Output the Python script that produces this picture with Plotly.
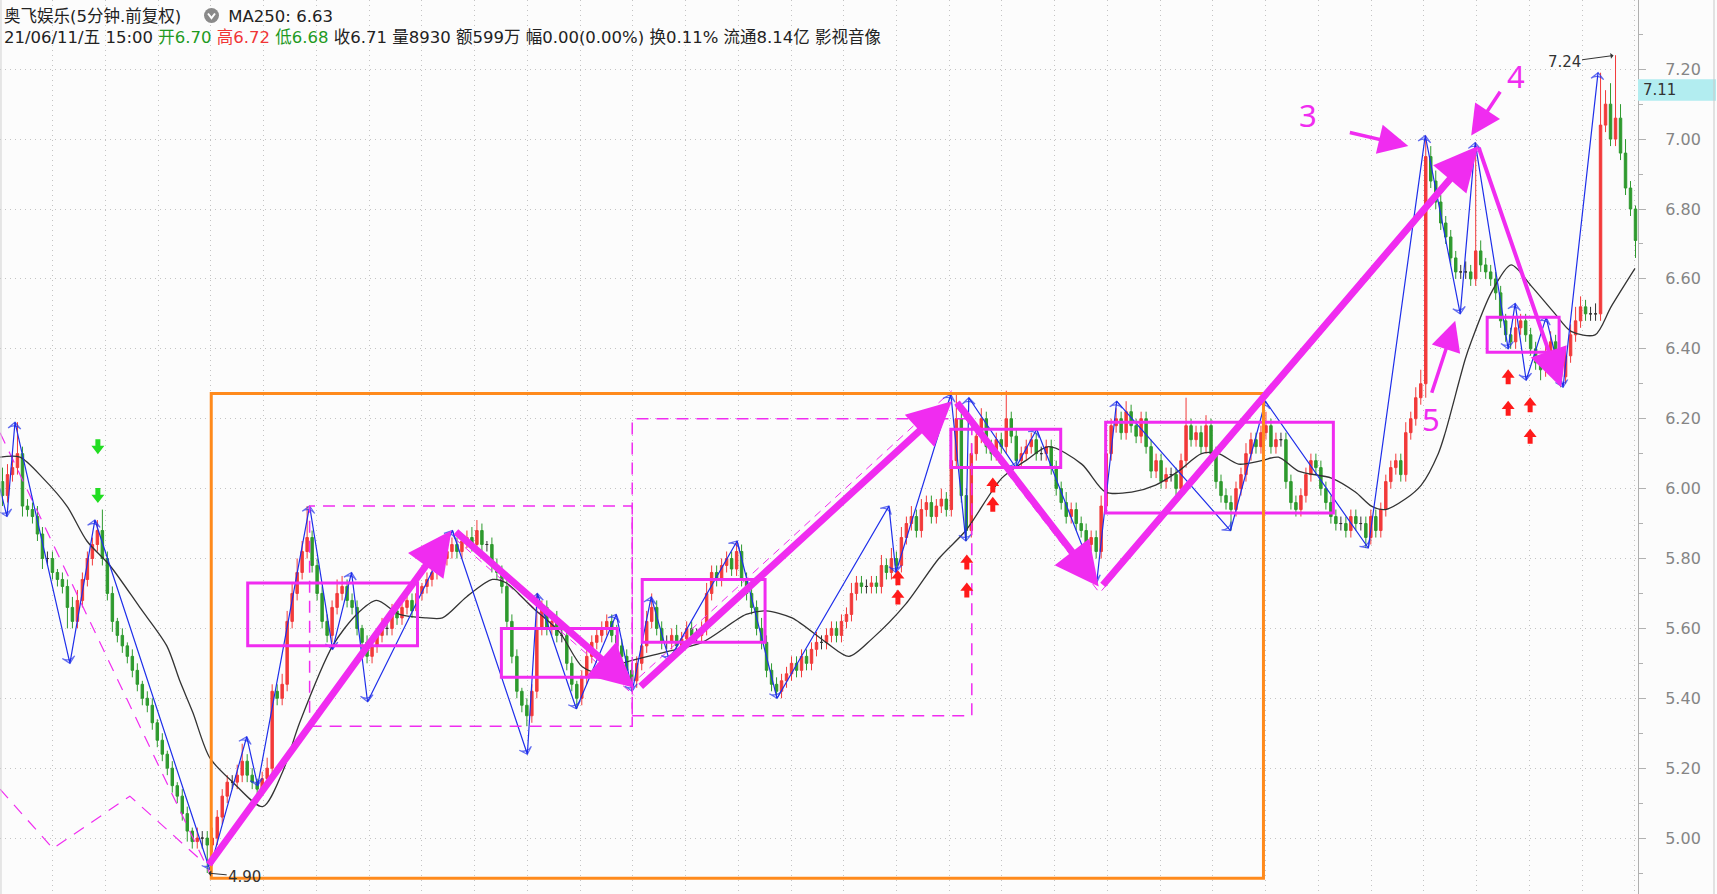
import plotly.graph_objects as go

# ---------------- data ----------------
first_open = 6.02
close = [
    5.98, 6.04, 6.06, 6.10, 5.95, 5.94, 5.92, 5.87, 5.80, 5.80,
    5.76, 5.74, 5.72, 5.66, 5.62, 5.68, 5.74, 5.80, 5.84, 5.88,
    5.80, 5.70, 5.62, 5.58, 5.55, 5.52, 5.48, 5.44, 5.40, 5.38,
    5.33, 5.28, 5.24, 5.20, 5.15, 5.12, 5.07, 5.02, 4.99, 5.00,
    5.00, 4.98, 5.00, 5.06, 5.12, 5.16, 5.16, 5.18, 5.22, 5.18,
    5.16, 5.14, 5.17, 5.20, 5.42, 5.40, 5.44, 5.62, 5.70, 5.76,
    5.82, 5.86, 5.78, 5.70, 5.62, 5.58, 5.66, 5.70, 5.72, 5.68,
    5.66, 5.60, 5.56, 5.52, 5.55, 5.58, 5.60, 5.60, 5.65, 5.63,
    5.66, 5.68, 5.65, 5.70, 5.72, 5.74, 5.76, 5.78, 5.80, 5.82,
    5.84, 5.82, 5.85, 5.86, 5.84, 5.88, 5.84, 5.84, 5.78, 5.76,
    5.72, 5.62, 5.52, 5.42, 5.38, 5.35, 5.42, 5.60, 5.66, 5.60,
    5.62, 5.58, 5.58, 5.50, 5.44, 5.40, 5.46, 5.52, 5.56, 5.58,
    5.60, 5.62, 5.58, 5.55, 5.52, 5.48, 5.45, 5.50, 5.55, 5.62,
    5.66, 5.60, 5.56, 5.56, 5.58, 5.55, 5.57, 5.60, 5.58, 5.58,
    5.60, 5.70, 5.76, 5.74, 5.78, 5.80, 5.77, 5.82, 5.74, 5.70,
    5.66, 5.60, 5.56, 5.48, 5.44, 5.42, 5.45, 5.47, 5.50, 5.48,
    5.52, 5.50, 5.54, 5.56, 5.56, 5.58, 5.60, 5.58, 5.62, 5.64,
    5.70, 5.73, 5.72, 5.72, 5.73, 5.72, 5.78, 5.76, 5.80, 5.78,
    5.86, 5.90, 5.92, 5.88, 5.94, 5.96, 5.92, 5.95, 5.97, 5.94,
    6.08, 6.20, 5.98, 5.88, 6.10, 6.15, 6.20, 6.12, 6.10, 6.14,
    6.12, 6.20, 6.15, 6.08, 6.10, 6.12, 6.14, 6.10, 6.10, 6.12,
    6.06, 6.00, 5.96, 5.92, 5.94, 5.90, 5.88, 5.84, 5.86, 5.82,
    5.95, 6.10, 6.18, 6.20, 6.16, 6.22, 6.18, 6.15, 6.20, 6.12,
    6.05, 6.08, 6.02, 6.04, 6.04, 6.00, 6.08, 6.18, 6.14, 6.16,
    6.12, 6.18, 6.10, 6.02, 5.98, 5.96, 5.94, 6.00, 6.04, 6.10,
    6.14, 6.12, 6.16, 6.18, 6.12, 6.14, 6.14, 6.02, 5.96, 5.94,
    5.98, 6.04, 6.08, 6.06, 6.00, 5.96, 5.92, 5.90, 5.90, 5.88,
    5.92, 5.90, 5.90, 5.86, 5.92, 5.88, 5.94, 6.02, 6.06, 6.08,
    6.04, 6.16, 6.20, 6.26, 6.30, 6.95, 6.88, 6.82, 6.76, 6.72,
    6.66, 6.62, 6.62, 6.62, 6.60, 6.68, 6.64, 6.62, 6.60, 6.56,
    6.48, 6.44, 6.42, 6.46, 6.48, 6.44, 6.40, 6.36, 6.34, 6.38,
    6.42, 6.36, 6.32, 6.38, 6.44, 6.48, 6.52, 6.50, 6.50, 6.50,
    7.04, 7.10, 7.00, 7.06, 6.96, 6.86, 6.80, 6.71,
]
# upper / lower shadows beyond the body, in cents
wick_up = [
    4, 3, 4, 9, 2, 2, 2, 3, 2, 2,
    2, 1, 2, 2, 3, 3, 2, 2, 2, 3,
    6, 2, 2, 1, 2, 1, 2, 2, 1, 2,
    2, 1, 2, 1, 2, 1, 2, 2, 1, 3,
    2, 2, 3, 2, 2, 2, 2, 3, 5, 2,
    2, 1, 2, 3, 2, 2, 3, 3, 3, 4,
    3, 9, 2, 2, 2, 2, 2, 4, 3, 2,
    2, 2, 1, 2, 2, 2, 3, 2, 2, 2,
    2, 3, 2, 2, 1, 2, 2, 3, 2, 2,
    2, 2, 2, 2, 3, 3, 2, 1, 2, 2,
    2, 2, 2, 2, 1, 2, 2, 10, 2, 2,
    2, 3, 2, 2, 2, 1, 2, 2, 2, 2,
    2, 2, 2, 3, 2, 2, 2, 2, 2, 3,
    4, 2, 2, 2, 2, 3, 2, 2, 2, 2,
    2, 3, 2, 2, 2, 2, 2, 3, 2, 2,
    2, 2, 3, 2, 2, 2, 2, 2, 2, 2,
    2, 2, 2, 3, 2, 2, 2, 2, 2, 2,
    3, 2, 2, 2, 2, 2, 3, 2, 3, 2,
    3, 2, 3, 2, 3, 2, 2, 2, 3, 2,
    3, 7, 2, 2, 3, 3, 3, 2, 2, 2,
    2, 8, 2, 2, 2, 2, 2, 2, 2, 2,
    2, 2, 2, 3, 2, 2, 2, 2, 2, 2,
    3, 3, 2, 3, 2, 3, 2, 2, 2, 2,
    2, 2, 2, 2, 2, 2, 2, 8, 2, 2,
    2, 3, 2, 2, 2, 2, 2, 2, 2, 3,
    2, 2, 2, 4, 2, 2, 2, 2, 2, 2,
    2, 2, 2, 2, 2, 2, 2, 2, 2, 2,
    2, 2, 2, 2, 2, 2, 2, 2, 2, 2,
    2, 3, 2, 3, 4, 6, 3, 3, 2, 2,
    2, 2, 2, 3, 2, 31, 3, 2, 2, 2,
    2, 2, 2, 3, 2, 2, 2, 2, 2, 3,
    3, 2, 2, 2, 3, 4, 3, 2, 2, 3,
    15, 4, 6, 18, 4, 4, 2, 1,
]
wick_dn = [
    3, 2, 2, 2, 3, 2, 2, 2, 3, 2,
    2, 2, 2, 6, 2, 2, 2, 2, 2, 2,
    2, 2, 3, 2, 2, 2, 2, 2, 2, 2,
    2, 2, 2, 2, 2, 2, 2, 3, 2, 2,
    3, 8, 2, 2, 2, 2, 2, 2, 2, 2,
    2, 2, 2, 2, 2, 2, 2, 2, 2, 2,
    2, 2, 2, 2, 2, 2, 2, 2, 2, 2,
    2, 2, 4, 2, 2, 2, 2, 2, 2, 2,
    2, 2, 2, 2, 2, 2, 2, 2, 2, 2,
    2, 2, 2, 2, 2, 2, 2, 2, 2, 2,
    2, 2, 2, 2, 2, 3, 2, 2, 2, 2,
    2, 2, 2, 2, 2, 3, 2, 2, 2, 2,
    2, 2, 2, 2, 2, 2, 3, 2, 2, 2,
    2, 2, 2, 2, 2, 2, 2, 2, 2, 2,
    2, 2, 2, 2, 2, 2, 2, 2, 2, 2,
    2, 2, 2, 2, 2, 2, 2, 2, 2, 2,
    2, 2, 2, 2, 2, 2, 2, 2, 2, 2,
    2, 2, 2, 2, 2, 2, 2, 2, 2, 2,
    2, 2, 2, 2, 2, 2, 2, 2, 2, 2,
    2, 2, 2, 3, 2, 2, 2, 2, 2, 2,
    2, 2, 2, 2, 2, 2, 2, 2, 2, 2,
    2, 2, 2, 2, 2, 2, 2, 2, 2, 2,
    2, 2, 2, 2, 2, 2, 2, 2, 2, 2,
    2, 2, 2, 2, 2, 2, 2, 2, 2, 2,
    2, 2, 2, 2, 2, 2, 6, 2, 2, 2,
    2, 2, 2, 2, 2, 2, 2, 2, 2, 2,
    2, 2, 2, 2, 2, 2, 2, 2, 2, 2,
    2, 2, 2, 3, 2, 2, 2, 2, 2, 2,
    2, 2, 2, 2, 2, 4, 2, 2, 2, 2,
    2, 2, 2, 2, 2, 2, 2, 2, 2, 2,
    2, 2, 2, 2, 2, 2, 2, 2, 3, 2,
    2, 2, 3, 2, 2, 2, 2, 2, 2, 2,
    2, 2, 2, 2, 2, 2, 2, 5,
]

# MA250 line
ma_bar = [-0.5, 3.5, 8.1, 12.9, 16.9, 21.5, 27.5, 32.9, 35.5, 38.1, 41.5, 46.1, 52.1, 56.1, 59.5,
          66.1, 70.9, 74.9, 79.5, 84.9, 88.1, 92.9, 98.1, 100.9, 106.1, 111.5, 116.1, 120.1, 124.1,
          132.1, 140.1, 148.9, 152.9, 158.1, 164.9, 169.5, 174.1, 180.9, 187.5, 192.9, 200.1, 204.9,
          209.5, 216.1, 220.9, 226.1, 230.9, 235.5, 240.1, 243.5, 247.5, 252.1, 255.5, 259.5, 266.1,
          270.9, 274.1, 276.9, 280.9, 284.1, 287.5, 288.9, 292.9, 294.1, 298.1, 302.1, 306.1, 310.9,
          314.1, 318.9, 322.1, 326.9]
ma_val = [6.09, 6.09, 6.03, 5.95, 5.85, 5.78, 5.66, 5.55, 5.45, 5.36, 5.23, 5.16, 5.09, 5.19, 5.33,
          5.55, 5.64, 5.68, 5.64, 5.63, 5.63, 5.69, 5.74, 5.73, 5.66, 5.59, 5.49, 5.47, 5.50,
          5.53, 5.56, 5.64, 5.65, 5.63, 5.56, 5.52, 5.57, 5.67, 5.80, 5.88, 6.03, 6.08,
          6.12, 6.07, 5.99, 5.99, 6.01, 6.05, 6.10, 6.10, 6.07, 6.08, 6.09, 6.05, 6.03,
          5.99, 5.95, 5.94, 5.97, 6.01, 6.10, 6.16, 6.37, 6.42, 6.56, 6.64, 6.58, 6.50,
          6.45, 6.44, 6.52, 6.63]

# blue wave (zig-zag) line
zig_bar = [-0.5, 0.9, 2.5, 13.5, 18.5, 41.5, 48.9, 51.1, 61.5, 66.1, 69.9, 73.1, 90.1, 105.1, 107.1,
           114.9, 122.9, 126.1, 129.9, 133.5, 147.1, 155.1, 177.5, 178.9, 189.9, 192.9, 193.5, 202.9,
           207.1, 219.1, 223.1, 245.9, 252.9, 273.5, 284.9, 291.9, 294.9, 301.5, 302.9, 305.1, 309.1,
           312.5, 319.5]
zig_val = [6.00, 5.92, 6.19, 5.50, 5.91, 4.91, 5.29, 5.15, 5.95, 5.54, 5.76, 5.39, 5.88, 5.24, 5.70,
           5.37, 5.64, 5.42, 5.69, 5.51, 5.85, 5.40, 5.95, 5.76, 6.27, 5.85, 6.26, 6.06,
           6.17, 5.73, 6.25, 5.88, 6.25, 5.83, 7.01, 6.50, 6.99, 6.40, 6.53, 6.31, 6.49,
           6.29, 7.19]

# thick magenta trend arrows (start -> end)
trend_x0 = [41.1, 90.5, 127.5, 190.9, 220.1, 295.5]
trend_y0 = [4.92, 5.88, 5.43, 6.25, 5.72, 6.98]
trend_x1 = [89.9, 126.5, 190.1, 219.5, 295.5, 312.1]
trend_y1 = [5.88, 5.43, 6.25, 5.72, 6.98, 6.29]

# thin dashed magenta guide lines
guide_bar = [-0.5, 41.5]
guide_val = [6.16, 4.90]
zigd_bar = [-0.5, 10.1, 25.5, 39.5]
zigd_val = [5.14, 4.97, 5.12, 4.94]

# solid magenta boxes
box_x0 = [49.1, 99.9, 128.1, 189.9, 220.9, 297.3]
box_x1 = [83.1, 123.1, 152.7, 211.9, 266.5, 311.7]
box_y0 = [5.55, 5.46, 5.56, 6.06, 5.93, 6.39]
box_y1 = [5.73, 5.60, 5.74, 6.17, 6.19, 6.49]
# dashed magenta boxes
dbox_x0 = [61.5, 126.1]
dbox_x1 = [126.1, 194.1]
dbox_y0 = [5.32, 5.35]
dbox_y1 = [5.95, 6.20]
# orange range box
obox = [41.8, 252.5, 4.885, 6.272]

# signal arrows
up_bar = [179.3, 179.3, 193.1, 193.1, 198.3, 198.3, 301.5, 301.5, 305.9, 305.9]
up_val = [5.745, 5.69, 5.79, 5.71, 6.01, 5.955, 6.32, 6.23, 6.24, 6.15]
dn_bar = [19.1, 19.1]
dn_val = [6.12, 5.98]

# wave labels and their pointers
lab_text = ['3', '4', '5']
lab_bar = [261.5, 303.1, 286.1]
lab_val = [7.07, 7.18, 6.20]
ptr_x0 = [269.5, 300.1, 286.1]
ptr_y0 = [7.02, 7.14, 6.27]
ptr_x1 = [281.5, 294.1, 290.9]
ptr_y1 = [6.98, 7.01, 6.48]

# extreme labels
hi_bar, hi_val, hi_text = 323, 7.24, '7.24'
lo_bar, lo_val, lo_text = 41, 4.90, '4.90'
last_tag = 7.11

y_ticks = [5.00, 5.20, 5.40, 5.60, 5.80, 6.00, 6.20, 6.40, 6.60, 6.80, 7.00, 7.20]

header1 = '奥飞娱乐(5分钟.前复权)'
header_ma = 'MA250: 6.63'
header2 = ("21/06/11/五 15:00 <span style='color:#1F9A1F'>开6.70</span> "
           "<span style='color:#F03535'>高6.72</span> <span style='color:#1F9A1F'>低6.68</span> "
           "收6.71 量8930 额599万 幅0.00(0.00%) 换0.11% 流通8.14亿 影视音像")

# ---------------- figure ----------------
W, H = 1717, 894
PLOT_W = 1638
MAG = '#F02CF0'
ORANGE = '#FF8A1C'

n = len(close)
bars = list(range(n))
opens = [first_open] + close[:-1]
highs = [round(max(o, c) + u / 100, 2) for o, c, u in zip(opens, close, wick_up)]
lows = [round(min(o, c) - d / 100, 2) for o, c, d in zip(opens, close, wick_dn)]

fig = go.Figure()

groups = {'up': [], 'dn': [], 'flat': []}
for i in range(n):
    if close[i] > opens[i] + 1e-9:
        groups['up'].append(i)
    elif close[i] < opens[i] - 1e-9:
        groups['dn'].append(i)
    else:
        groups['flat'].append(i)
cols = {'up': '#F23A3A', 'dn': '#2E9A2E', 'flat': '#333333'}
for key, idx in groups.items():
    col = cols[key]
    fig.add_trace(go.Candlestick(
        x=[bars[i] for i in idx], open=[opens[i] for i in idx], high=[highs[i] for i in idx],
        low=[lows[i] for i in idx], close=[close[i] for i in idx],
        increasing=dict(line=dict(color=col, width=1), fillcolor=col),
        decreasing=dict(line=dict(color=col, width=1), fillcolor=col),
        whiskerwidth=0, hoverinfo='skip', showlegend=False))

# dashed guide lines (left)
fig.add_trace(go.Scatter(x=guide_bar, y=guide_val, mode='lines',
                         line=dict(color=MAG, width=1.2, dash='12px,9px'), hoverinfo='skip'))
fig.add_trace(go.Scatter(x=zigd_bar, y=zigd_val, mode='lines',
                         line=dict(color=MAG, width=1.2, dash='12px,9px'), hoverinfo='skip'))
# thin parallels of trend arrows
par_off = [None, -0.022, 0.03, -0.015, -0.012, None]
for x0, y0, x1, y1, off in zip(trend_x0, trend_y0, trend_x1, trend_y1, par_off):
    if off is None:
        continue
    fig.add_trace(go.Scatter(x=[x0, x1], y=[y0 + off, y1 + off], mode='lines',
                             line=dict(color=MAG, width=1, dash='8px,6px'), hoverinfo='skip'))

# MA line
fig.add_trace(go.Scatter(x=ma_bar, y=ma_val, mode='lines',
                         line=dict(color='#333333', width=1.3, shape='spline', smoothing=0.8),
                         hoverinfo='skip'))
# blue wave line with arrow heads
fig.add_trace(go.Scatter(x=zig_bar, y=zig_val, mode='lines+markers',
                         line=dict(color='#1E2EEA', width=1.2),
                         marker=dict(symbol='arrow-wide-open', angleref='previous',
                                     size=[0] + [9] * (len(zig_bar) - 1),
                                     color='#1E2EEA', line=dict(color='#1E2EEA', width=1.2)),
                         hoverinfo='skip'))

# boxes
for x0, x1, y0, y1 in zip(box_x0, box_x1, box_y0, box_y1):
    fig.add_shape(type='rect', x0=x0, x1=x1, y0=y0, y1=y1, xref='x', yref='y',
                  line=dict(color=MAG, width=3), fillcolor='rgba(0,0,0,0)')
for x0, x1, y0, y1 in zip(dbox_x0, dbox_x1, dbox_y0, dbox_y1):
    fig.add_shape(type='rect', x0=x0, x1=x1, y0=y0, y1=y1, xref='x', yref='y',
                  line=dict(color=MAG, width=1.5, dash='12px,8px'), fillcolor='rgba(0,0,0,0)')
fig.add_shape(type='rect', x0=obox[0], x1=obox[1], y0=obox[2], y1=obox[3], xref='x', yref='y',
              line=dict(color=ORANGE, width=3), fillcolor='rgba(0,0,0,0)')

# signal arrows as shapes built from data positions
HW, SW, AH, HH = 1.3, 0.5, 0.043, 0.024


def up_path(bx, by):
    top = by + AH / 2
    base = top - HH
    bot = by - AH / 2
    return (f"M {bx},{top} L {bx + HW},{base} L {bx + SW},{base} L {bx + SW},{bot} "
            f"L {bx - SW},{bot} L {bx - SW},{base} L {bx - HW},{base} Z")


def dn_path(bx, by):
    bot = by - AH / 2
    base = bot + HH
    top = by + AH / 2
    return (f"M {bx},{bot} L {bx + HW},{base} L {bx + SW},{base} L {bx + SW},{top} "
            f"L {bx - SW},{top} L {bx - SW},{base} L {bx - HW},{base} Z")


for bx, by in zip(up_bar, up_val):
    fig.add_shape(type='path', path=up_path(bx, by), xref='x', yref='y',
                  fillcolor='#FF1A1A', line=dict(width=0))
for bx, by in zip(dn_bar, dn_val):
    fig.add_shape(type='path', path=dn_path(bx, by), xref='x', yref='y',
                  fillcolor='#22DD22', line=dict(width=0))

# thick trend arrows
trend_w = [7, 7, 7, 7, 7, 4]
for x0, y0, x1, y1, w in zip(trend_x0, trend_y0, trend_x1, trend_y1, trend_w):
    fig.add_annotation(x=x1, y=y1, ax=x0, ay=y0, xref='x', yref='y', axref='x', ayref='y',
                       text='', showarrow=True, arrowhead=2, arrowsize=1.25 if w > 5 else 1.9,
                       arrowwidth=w, arrowcolor=MAG, standoff=0, startstandoff=0)
# label pointers
for x0, y0, x1, y1 in zip(ptr_x0, ptr_y0, ptr_x1, ptr_y1):
    fig.add_annotation(x=x1, y=y1, ax=x0, ay=y0, xref='x', yref='y', axref='x', ayref='y',
                       text='', showarrow=True, arrowhead=2, arrowsize=1.7,
                       arrowwidth=3.5, arrowcolor=MAG, standoff=0, startstandoff=0)
for t, bx, by in zip(lab_text, lab_bar, lab_val):
    fig.add_annotation(x=bx, y=by, xref='x', yref='y', text=t, showarrow=False,
                       font=dict(size=31, color=MAG, family='Noto Sans'))

# extreme price labels
fig.add_annotation(x=hi_bar, y=hi_val, ax=hi_bar - 10.3, ay=hi_val - 0.02, xref='x', yref='y',
                   axref='x', ayref='y', text=hi_text, showarrow=True, arrowhead=1, arrowsize=1,
                   arrowwidth=1, arrowcolor='#333', standoff=2,
                   font=dict(size=15, color='#333', family='DejaVu Sans'))
fig.add_annotation(x=lo_bar, y=lo_val, ax=lo_bar + 7.5, ay=lo_val - 0.01, xref='x', yref='y',
                   axref='x', ayref='y', text=lo_text, showarrow=True, arrowhead=1, arrowsize=1,
                   arrowwidth=1, arrowcolor='#333', standoff=1,
                   font=dict(size=15, color='#333', family='DejaVu Sans'))

# last price tag on the axis
fig.add_shape(type='rect', xref='paper', yref='y', x0=1.0, x1=(W - 1) / PLOT_W,
              y0=last_tag, y1=last_tag + 0.061, fillcolor='#B2EDF0', line=dict(width=0))
fig.add_annotation(xref='paper', yref='y', x=1.0 + 3 / PLOT_W, y=last_tag + 0.031,
                   xanchor='left', text=f'{last_tag:.2f}', showarrow=False,
                   font=dict(size=15, color='#333', family='DejaVu Sans'))
# frame lines
fig.add_shape(type='line', xref='paper', yref='paper', x0=1 + 76 / PLOT_W, x1=1 + 76 / PLOT_W,
              y0=0, y1=1, line=dict(color='#C8C8C8', width=1))
fig.add_shape(type='line', xref='paper', yref='paper', x0=0.0006, x1=0.0006,
              y0=0, y1=1, line=dict(color='#D0D0D0', width=1))


# header
def px(xp):
    return xp / PLOT_W


def py(yp):
    return 1 - yp / H


HFONT = 'DejaVu Sans, Noto Sans CJK SC'
gap = '&nbsp;' * 9
fig.add_annotation(xref='paper', yref='paper', x=px(2), y=py(27), xanchor='left', yanchor='middle',
                   align='left', text=header1 + gap + header_ma + '<br>' + header2, showarrow=False,
                   font=dict(size=16.5, color='#222', family=HFONT))
fig.add_shape(type='circle', xref='paper', yref='paper', x0=px(204), x1=px(219), y0=py(23), y1=py(8),
              fillcolor='#8A8A8A', line=dict(width=0))
fig.add_shape(type='path', xref='paper', yref='paper',
              path=f"M {px(208)},{py(13.5)} L {px(211.5)},{py(18)} L {px(215)},{py(13.5)}",
              line=dict(color='white', width=2))

fig.update_layout(
    width=W, height=H,
    margin=dict(l=0, r=W - PLOT_W, t=0, b=0),
    paper_bgcolor='#FCFCFC', plot_bgcolor='#FCFCFC',
    showlegend=False, hovermode=False,
    font=dict(family='DejaVu Sans', color='#333'),
    xaxis=dict(range=[-0.5, n - 0.5], showticklabels=False, ticks='', rangeslider=dict(visible=False),
               showgrid=True, gridcolor='#C4C4C4', griddash='1px,4px', gridwidth=1,
               tick0=-0.5, dtick=52.8 / 5, zeroline=False, showline=False, fixedrange=True),
    yaxis=dict(side='right', range=[4.84, 7.398], tickvals=y_ticks,
               ticktext=[f'{v:.2f}' for v in y_ticks],
               showgrid=True, gridcolor='#C4C4C4', griddash='1px,4px', gridwidth=1,
               showline=True, linecolor='#B0B0B0', linewidth=1,
               ticks='outside', ticklen=7, tickcolor='#B0B0B0', ticklabelstandoff=16,
               minor=dict(dtick=0.1, tick0=5.0, ticks='outside', ticklen=4, tickcolor='#B0B0B0', showgrid=False),
               tickfont=dict(size=16, color='#858585', family='DejaVu Sans'),
               zeroline=False, fixedrange=True),
)

fig.write_html("out.html", config={'displayModeBar': False},
               post_script="document.body.style.margin='0';document.body.style.overflow='hidden';")
